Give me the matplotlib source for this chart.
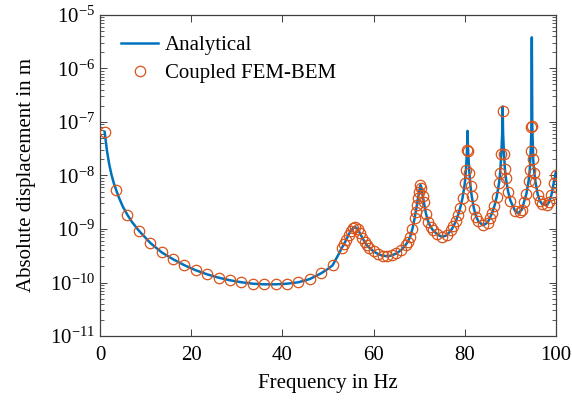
import matplotlib
matplotlib.use("Agg")
import matplotlib.pyplot as plt
from matplotlib.ticker import LogLocator, FixedLocator

plt.rcParams['font.family'] = ['Liberation Serif', 'DejaVu Serif']
plt.rcParams['mathtext.fontset'] = 'stix'
plt.rcParams['font.size'] = 15

# analytical solution
freq_line = [1, 1.5, 2, 2.5, 3, 3.5, 4, 5, 6, 7, 8.5, 10, 11, 12.5, 13.5, 16, 18.5, 21,
             23.5, 26, 28.5, 31, 33.5, 36, 38.5, 41, 43.5, 46, 48.5, 50, 51, 52, 52.5,
             53, 53.5, 54, 54.5, 55, 55.5, 56, 56.5, 57, 57.5, 58, 58.5, 59, 60, 61, 62,
             63, 64, 65, 66, 67, 67.5, 68, 68.5, 69, 69.25, 69.5, 69.75, 70, 70.3, 70.5,
             70.75, 71, 71.5, 72, 72.5, 73, 74, 75, 76, 77, 77.5, 78, 78.5, 79, 79.5, 80,
             80.25, 80.5, 80.6, 80.7, 81, 81.25, 81.5, 82, 82.5, 83, 84, 85, 85.5, 86,
             86.5, 87, 87.5, 87.75, 88, 88.2, 88.3, 88.4, 88.6, 88.8, 89, 89.5, 90, 91,
             91.7, 92.5, 93, 93.5, 94, 94.25, 94.5, 94.6, 94.7, 94.8, 94.9, 95, 95.25,
             95.5, 96, 96.5, 97, 98, 98.5, 99, 99.5, 100]
disp_line = [6.5e-8, 2.9e-8, 1.62e-8, 1.03e-8, 7.2e-9, 5.4e-9, 4.1e-9, 2.6e-9, 1.83e-9,
             1.35e-9, 9.3e-10, 6.8e-10, 5.5e-10, 4.3e-10, 3.66e-10, 2.72e-10, 2.1e-10,
             1.69e-10, 1.42e-10, 1.23e-10, 1.1e-10, 1.01e-10, 9.5e-11, 9.25e-11, 9.25e-11,
             9.5e-11, 1.01e-10, 1.16e-10, 1.49e-10, 1.8e-10, 2.1e-10, 3.0e-10, 3.6e-10,
             4.4e-10, 5.2e-10, 6.3e-10, 7.8e-10, 9.3e-10, 1.04e-9, 1.08e-9, 1.0e-9,
             8.3e-10, 6.9e-10, 5.8e-10, 5.0e-10, 4.5e-10, 3.8e-10, 3.4e-10, 3.16e-10,
             3.1e-10, 3.2e-10, 3.5e-10, 4.0e-10, 5.0e-10, 5.8e-10, 7.1e-10, 1.0e-9, 1.6e-9,
             2.1e-9, 2.8e-9, 3.8e-9, 5.0e-9, 6.6e-9, 5.8e-9, 4.2e-9, 3.2e-9, 1.9e-9,
             1.35e-9, 1.1e-9, 9.5e-10, 7.9e-10, 7.1e-10, 7.6e-10, 9.5e-10, 1.12e-9,
             1.38e-9, 1.8e-9, 2.5e-9, 3.8e-9, 7.1e-9, 1.26e-8, 3.2e-8, 6.8e-8, 3.2e-8,
             1.12e-8, 6.3e-9, 4.2e-9, 2.4e-9, 1.7e-9, 1.38e-9, 1.17e-9, 1.32e-9, 1.6e-9,
             2.0e-9, 2.7e-9, 4.0e-9, 7.1e-9, 1.12e-8, 2.5e-8, 6.0e-8, 1.95e-7, 6.0e-8,
             2.5e-8, 1.3e-8, 8.9e-9, 5.0e-9, 3.4e-9, 2.2e-9, 1.95e-9, 2.3e-9, 3.2e-9,
             4.5e-9, 7.9e-9, 1.26e-8, 3.5e-8, 8.0e-8, 3.8e-6, 8.5e-8, 4.0e-8, 2.0e-8,
             1.12e-8, 7.6e-9, 4.4e-9, 3.3e-9, 2.9e-9, 2.8e-9, 3.2e-9, 4.3e-9, 7.1e-9,
             1.2e-8]

# coupled FEM-BEM results
freq_fem = [1, 3.5, 6, 8.5, 11, 13.5, 16, 18.5, 21, 23.5, 26, 28.5, 31, 33.5, 36, 38.5,
            41, 43.5, 46, 48.5, 51, 53, 53.5, 54, 54.5, 55, 55.5, 56, 56.5, 57, 57.5, 58,
            58.5, 59, 60, 61, 62, 63, 64, 65, 66, 67, 67.5, 68, 68.5, 69, 69.25, 69.5,
            69.75, 70, 70.25, 70.5, 70.75, 71, 71.5, 72, 72.5, 73, 74, 75, 76, 77, 77.5,
            78, 78.5, 79, 79.5, 80, 80.25, 80.5, 80.7, 81, 81.25, 81.5, 82, 82.5, 83, 84,
            85, 85.5, 86, 86.5, 87, 87.5, 87.75, 88, 88.3, 88.6, 88.8, 89, 89.5, 90, 91,
            92, 92.5, 93, 93.5, 94, 94.25, 94.5, 94.6, 94.8, 95, 95.25, 95.5, 96, 96.5,
            97, 98, 98.5, 99, 99.5, 100]
disp_fem = [6.5e-8, 5.4e-9, 1.83e-9, 9.3e-10, 5.5e-10, 3.66e-10, 2.72e-10, 2.1e-10,
            1.69e-10, 1.42e-10, 1.23e-10, 1.1e-10, 1.01e-10, 9.5e-11, 9.25e-11, 9.25e-11,
            9.5e-11, 1.01e-10, 1.16e-10, 1.49e-10, 2.1e-10, 4.4e-10, 5.2e-10, 6.3e-10,
            7.8e-10, 9.3e-10, 1.04e-9, 1.08e-9, 1.0e-9, 8.3e-10, 6.9e-10, 5.8e-10,
            5.0e-10, 4.5e-10, 3.8e-10, 3.4e-10, 3.16e-10, 3.1e-10, 3.2e-10, 3.5e-10,
            4.0e-10, 5.0e-10, 5.8e-10, 7.1e-10, 1.0e-9, 1.6e-9, 2.1e-9, 2.8e-9, 3.8e-9,
            5.0e-9, 6.5e-9, 5.8e-9, 4.2e-9, 3.2e-9, 1.9e-9, 1.35e-9, 1.1e-9, 9.5e-10,
            7.9e-10, 7.1e-10, 7.6e-10, 9.5e-10, 1.12e-9, 1.38e-9, 1.8e-9, 2.5e-9, 3.8e-9,
            7.1e-9, 1.26e-8, 3.0e-8, 2.9e-8, 1.12e-8, 6.3e-9, 4.2e-9, 2.4e-9, 1.7e-9,
            1.38e-9, 1.17e-9, 1.32e-9, 1.6e-9, 2.0e-9, 2.7e-9, 4.0e-9, 7.1e-9, 1.12e-8,
            2.5e-8, 1.6e-7, 2.5e-8, 1.3e-8, 8.9e-9, 5.0e-9, 3.4e-9, 2.2e-9, 2.1e-9,
            2.3e-9, 3.2e-9, 4.5e-9, 7.9e-9, 1.26e-8, 2.8e-8, 8.0e-8, 8.5e-8, 2.0e-8,
            1.12e-8, 7.6e-9, 4.4e-9, 3.3e-9, 2.9e-9, 2.8e-9, 3.2e-9, 4.3e-9, 7.1e-9,
            1.0e-8]

x_ticks = [0, 20, 40, 60, 80, 100]
y_ticks = [1e-11, 1e-10, 1e-9, 1e-8, 1e-7, 1e-6, 1e-5]

fig = plt.figure(figsize=(5.72, 4.01), dpi=100)
ax = fig.add_axes([0.175, 0.162, 0.797, 0.801])

ax.plot(freq_line, disp_line, color='#0072BD', lw=1.8, label='Analytical', zorder=2)
ax.plot(freq_fem, disp_fem, ls='none', marker='o', ms=7.5, mfc='none', mec='#D95319',
        mew=0.9, label='Coupled FEM-BEM', zorder=3)

ax.set_yscale('log')
ax.set_xlim(0, 100)
ax.set_ylim(1e-11, 1e-5)
ax.xaxis.set_major_locator(FixedLocator(x_ticks))
ax.yaxis.set_major_locator(FixedLocator(y_ticks))
ax.yaxis.set_minor_locator(LogLocator(base=10, subs=range(2, 10), numticks=20))
ax.yaxis.set_minor_formatter(plt.NullFormatter())

ax.tick_params(which='both', direction='in', top=True, right=True, colors='#404040',
               labelcolor='black', labelsize=15)
ax.tick_params(which='major', length=5, width=0.7)
ax.tick_params(which='minor', length=3, width=0.6)
ax.tick_params(axis='x', which='major', pad=7)
for s in ax.spines.values():
    s.set_color('#404040')
    s.set_linewidth(0.9)

ax.set_xlabel('Frequency in Hz', fontsize=15, labelpad=7)
ax.set_ylabel('Absolute displacement in m', fontsize=15, labelpad=10)

ax.legend(loc='upper left', frameon=False, fontsize=15, handlelength=1.8,
          handletextpad=0.3, borderaxespad=0.6, labelspacing=0.4)

fig.savefig('out.png', dpi=100)
